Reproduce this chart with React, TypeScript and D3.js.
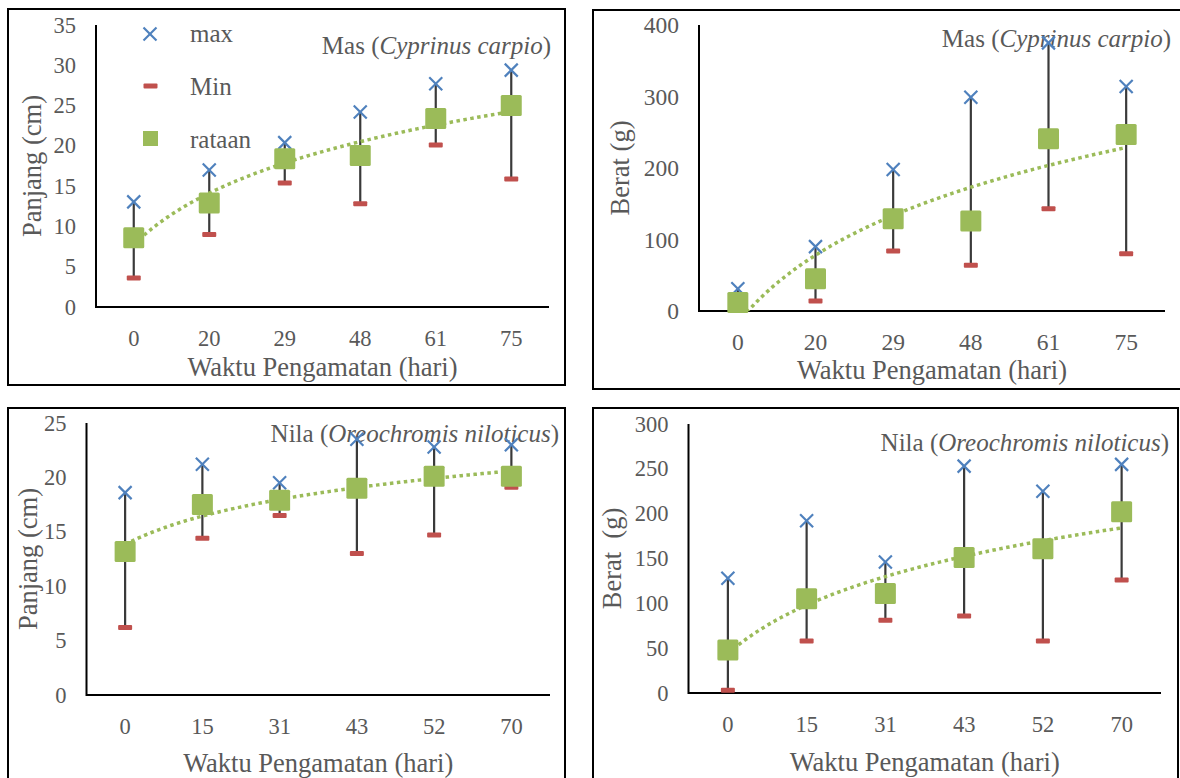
import React from "react";
import * as d3 from "d3";

// ---- data ----
const masDays = ["0", "20", "29", "48", "61", "75"];
const nilaDays = ["0", "15", "31", "43", "52", "70"];

const masLenMax = [13.05, 17.0, 20.4, 24.2, 27.7, 29.4];
const masLenMin = [3.6, 9.0, 15.4, 12.8, 20.1, 15.9];
const masLenMean = [8.6, 12.9, 18.4, 18.8, 23.4, 25.0];
const masLenTicks = [0, 5, 10, 15, 20, 25, 30, 35];

const masWtMax = [31, 90, 198, 299, 375, 314];
const masWtMin = [3, 14, 84, 64, 143, 80];
const masWtMean = [12, 45, 129, 126, 241, 247];
const masWtTicks = [0, 100, 200, 300, 400];

const nilaLenMax = [18.6, 21.2, 19.5, 23.5, 22.8, 23.0];
const nilaLenMin = [6.2, 14.4, 16.5, 13.0, 14.7, 19.1];
const nilaLenMean = [13.2, 17.5, 17.9, 19.0, 20.1, 20.1];
const nilaLenTicks = [0, 5, 10, 15, 20, 25];

const nilaWtMax = [128, 192, 146, 253, 225, 255];
const nilaWtMin = [3, 58, 81, 86, 58, 126];
const nilaWtMean = [48, 105, 111, 151, 161, 202];
const nilaWtTicks = [0, 50, 100, 150, 200, 250, 300];

const legendLabels = ["max", "Min", "rataan"];

const C_MAX = "#4F81BD";
const C_MIN = "#C0504D";
const C_MEAN = "#9BBB59";
const C_TEXT = "#595959";
const FONT = "'Liberation Serif', 'Times New Roman', serif";

type PanelDef = {
  id: string;
  cats: string[];
  max: number[];
  min: number[];
  mean: number[];
  ticks: number[];
  box: [number, number, number, number];
  x0: number;
  x1: number;
  y0: number;
  yTop: number;
  yTitle: string;
  yTitleX: number;
  xTitleY: number;
  titleMain: string;
  titleItalic: string;
  titleX: number;
  titleY: number;
  tickSize: number;
  legend?: boolean;
};

const panels: PanelDef[] = [
  {
    id: "p1", cats: masDays, max: masLenMax, min: masLenMin, mean: masLenMean, ticks: masLenTicks,
    box: [8, 9, 565, 385], x0: 96, x1: 549, y0: 307, yTop: 25,
    yTitle: "Panjang (cm)", yTitleX: 32, xTitleY: 367,
    titleMain: "Mas", titleItalic: "Cyprinus carpio", titleX: 551, titleY: 45, tickSize: 22.5, legend: true,
  },
  {
    id: "p2", cats: masDays, max: masWtMax, min: masWtMin, mean: masWtMean, ticks: masWtTicks,
    box: [593, 10, 1183, 389], x0: 699, x1: 1165, y0: 311, yTop: 25,
    yTitle: "Berat (g)", yTitleX: 620, xTitleY: 370,
    titleMain: "Mas", titleItalic: "Cyprinus carpio", titleX: 1171, titleY: 38, tickSize: 23.5,
  },
  {
    id: "p3", cats: nilaDays, max: nilaLenMax, min: nilaLenMin, mean: nilaLenMean, ticks: nilaLenTicks,
    box: [8, 408, 565, 800], x0: 86.5, x1: 550, y0: 695, yTop: 423,
    yTitle: "Panjang (cm)", yTitleX: 28, xTitleY: 763,
    titleMain: "Nila", titleItalic: "Oreochromis niloticus", titleX: 559, titleY: 433, tickSize: 22.5,
  },
  {
    id: "p4", cats: nilaDays, max: nilaWtMax, min: nilaWtMin, mean: nilaWtMean, ticks: nilaWtTicks,
    box: [593, 408, 1178, 800], x0: 688.5, x1: 1161, y0: 693, yTop: 424,
    yTitle: "Berat  (g)", yTitleX: 612, xTitleY: 762,
    titleMain: "Nila", titleItalic: "Oreochromis niloticus", titleX: 1169, titleY: 442, tickSize: 22.5,
  },
];

function XMark({ cx, cy, r = 6.5 }: { cx: number; cy: number; r?: number }) {
  return (
    <g stroke={C_MAX} strokeWidth={2.2} strokeLinecap="butt">
      <line x1={cx - r} y1={cy - r} x2={cx + r} y2={cy + r} />
      <line x1={cx - r} y1={cy + r} x2={cx + r} y2={cy - r} />
    </g>
  );
}

function MinMark({ cx, cy }: { cx: number; cy: number }) {
  return <rect x={cx - 7} y={cy - 2.5} width={14} height={5} rx={1} fill={C_MIN} />;
}

function Panel({ p }: { p: PanelDef }) {
  const x = d3.scaleBand<string>().domain(p.cats).range([p.x0, p.x1]);
  const cx = (c: string) => (x(c) as number) + x.bandwidth() / 2;
  const xi = d3.scaleLinear().domain([0.5, p.cats.length + 0.5]).range([p.x0, p.x1]);
  const y = d3
    .scaleLinear()
    .domain([0, p.ticks[p.ticks.length - 1]])
    .range([p.y0, p.yTop]);

  // logarithmic trendline (least squares on ln(index))
  const lx = p.mean.map((_, i) => Math.log(i + 1));
  const mx = d3.mean(lx) as number;
  const my = d3.mean(p.mean) as number;
  const a =
    d3.sum(lx.map((l, i) => (l - mx) * (p.mean[i] - my))) / d3.sum(lx.map((l) => (l - mx) ** 2));
  const b = my - a * mx;
  const ts = d3.range(0, 201).map((k) => 1 + ((p.cats.length - 1) * k) / 200);
  const trend = d3
    .line<number>()
    .x((t) => xi(t))
    .y((t) => y(a * Math.log(t) + b))(ts) as string;

  const [bx0, by0, bx1, by1] = p.box;
  const sq = 21;
  const midY = (p.y0 + p.yTop) / 2;

  return (
    <g fontFamily={FONT}>
      <rect x={bx0} y={by0} width={bx1 - bx0} height={by1 - by0} fill="white" stroke="#000" strokeWidth={2} />
      <defs>
        <clipPath id={"clip-" + p.id}>
          <rect x={p.x0} y={p.yTop - 30} width={p.x1 - p.x0} height={p.y0 - p.yTop + 30} />
        </clipPath>
      </defs>

      {/* y tick labels */}
      {p.ticks.map((t) => (
        <text
          key={t}
          x={p.x0 - 20}
          y={y(t)}
          textAnchor="end"
          dominantBaseline="central"
          fontSize={p.tickSize}
          fill={C_TEXT}
        >
          {t}
        </text>
      ))}
      {/* x tick labels */}
      {p.cats.map((c) => (
        <text
          key={c}
          x={cx(c)}
          y={p.y0 + 31}
          textAnchor="middle"
          dominantBaseline="central"
          fontSize={p.tickSize}
          fill={C_TEXT}
        >
          {c}
        </text>
      ))}

      {/* axes */}
      <line x1={p.x0} y1={p.yTop} x2={p.x0} y2={p.y0 + 1} stroke="#000" strokeWidth={2} />
      <line x1={p.x0} y1={p.y0} x2={p.x1} y2={p.y0} stroke="#000" strokeWidth={2} />

      {/* title */}
      <text x={p.titleX} y={p.titleY} textAnchor="end" dominantBaseline="central" fontSize={25} fill={C_TEXT}>
        {p.titleMain + " ("}
        <tspan fontStyle="italic">{p.titleItalic}</tspan>
        {")"}
      </text>

      {/* axis titles */}
      <text
        x={(p.x0 + p.x1) / 2}
        y={p.xTitleY}
        textAnchor="middle"
        dominantBaseline="central"
        fontSize={26.5}
        fill={C_TEXT}
      >
        Waktu Pengamatan (hari)
      </text>
      <text
        transform={`translate(${p.yTitleX},${midY}) rotate(-90)`}
        textAnchor="middle"
        dominantBaseline="central"
        fontSize={26.5}
        fill={C_TEXT}
        style={{ whiteSpace: "pre" }}
      >
        {p.yTitle}
      </text>

      {/* high-low lines */}
      {p.cats.map((c, i) => (
        <line
          key={"hl" + c}
          x1={cx(c)}
          x2={cx(c)}
          y1={y(p.max[i])}
          y2={y(p.min[i])}
          stroke="#3a3a3a"
          strokeWidth={2.2}
        />
      ))}

      {/* max markers */}
      {p.cats.map((c, i) => (
        <XMark key={"mx" + c} cx={cx(c)} cy={y(p.max[i])} />
      ))}
      {/* min markers */}
      {p.cats.map((c, i) => (
        <MinMark key={"mn" + c} cx={cx(c)} cy={y(p.min[i])} />
      ))}

      {/* trendline */}
      <path
        d={trend}
        fill="none"
        stroke={C_MEAN}
        strokeWidth={3.5}
        strokeDasharray="3.5 3.5"
        clipPath={`url(#clip-${p.id})`}
      />

      {/* mean markers */}
      {p.cats.map((c, i) => (
        <rect
          key={"mean" + c}
          x={cx(c) - sq / 2}
          y={y(p.mean[i]) - sq / 2}
          width={sq}
          height={sq}
          rx={1.5}
          fill={C_MEAN}
        />
      ))}

      {p.legend && (
        <g>
          <XMark cx={150} cy={34} r={6.5} />
          <MinMark cx={150.5} cy={86} />
          <rect x={143} y={131} width={15} height={15} fill={C_MEAN} />
          {legendLabels.map((l, i) => (
            <text
              key={l}
              x={190}
              y={[33, 86, 139][i]}
              dominantBaseline="central"
              fontSize={25}
              fill={C_TEXT}
            >
              {l}
            </text>
          ))}
        </g>
      )}
    </g>
  );
}

export default function App() {
  return (
    <svg
      width={1180}
      height={778}
      style={{ position: "absolute", left: 0, top: 0, background: "white" }}
    >
      <rect x={0} y={0} width={1180} height={778} fill="white" />
      {panels.map((p) => (
        <Panel key={p.id} p={p} />
      ))}
    </svg>
  );
}
